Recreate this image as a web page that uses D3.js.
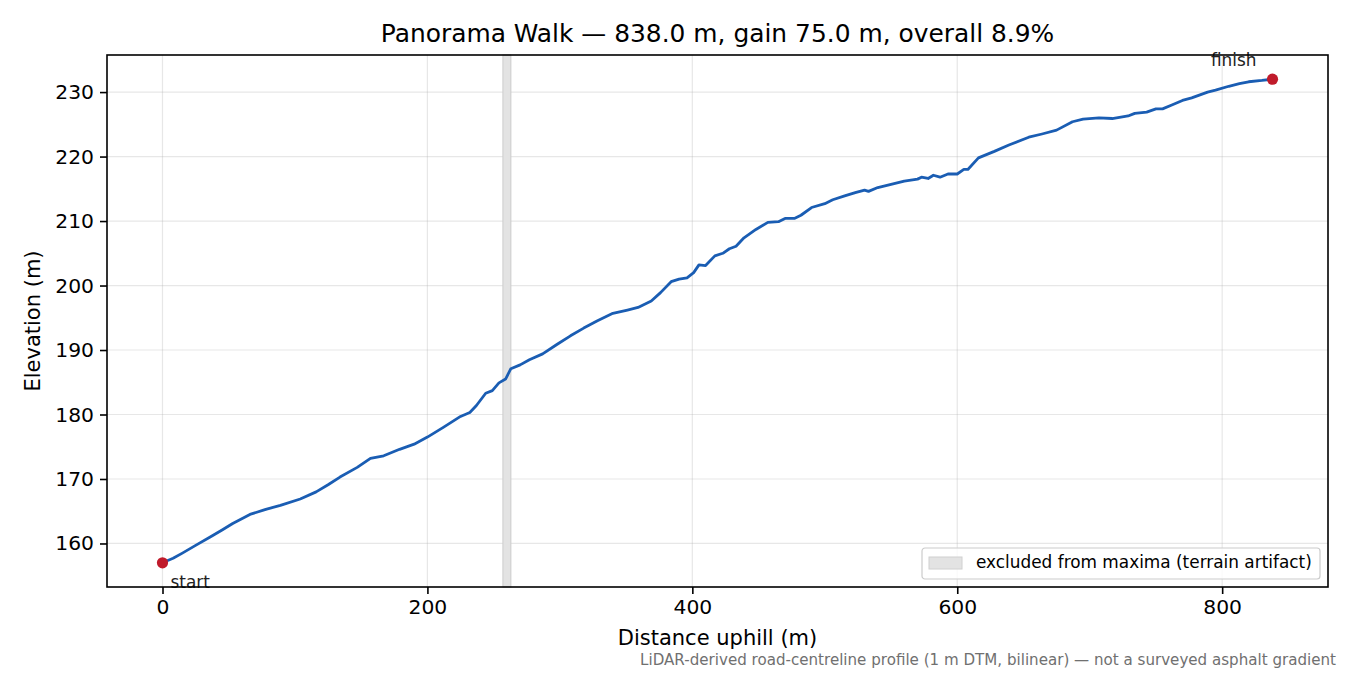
<!DOCTYPE html>
<html>
<head>
<meta charset="utf-8">
<script src="https://cdn.jsdelivr.net/npm/d3@7"></script>
<style>
  html, body { margin: 0; padding: 0; background: #fff; }
  svg { display: block; font-family: "DejaVu Sans", sans-serif; }
</style>
</head>
<body>
<svg id="chart" width="1350" height="675"></svg>
<script>
// profile (distance in m, elevation in m)
const distance = [0, 8, 15, 25, 36, 45, 53, 66, 78, 89, 104, 116, 125, 134, 147, 157, 167, 179, 190, 200,
  212, 225, 232, 237, 244, 249, 254, 259, 263, 270, 277, 287, 298, 308, 318, 328, 340, 351, 359, 369,
  376, 384, 390, 396, 401, 405, 410, 417, 423, 428, 433, 439, 448, 457, 465, 470, 477, 482, 490, 500,
  506, 515, 523, 530, 533, 540, 550, 560, 570, 573, 578, 582, 587, 593, 600, 605, 608, 616, 628, 639,
  654, 664, 675, 687, 695, 707, 717, 729, 734, 743, 750, 755, 762, 770, 777, 789, 795, 805, 813, 820,
  830, 838];
const elevation = [157.0, 157.7, 158.5, 159.7, 161.0, 162.1, 163.1, 164.5, 165.3, 165.9, 166.9, 168.0, 169.1, 170.3, 171.8, 173.2, 173.6, 174.6, 175.4, 176.5,
  178.0, 179.7, 180.3, 181.4, 183.3, 183.7, 184.9, 185.5, 187.1, 187.7, 188.5, 189.4, 190.9, 192.2, 193.4, 194.5, 195.7, 196.2, 196.6, 197.6,
  198.9, 200.6, 201.0, 201.2, 202.0, 203.2, 203.1, 204.6, 205.0, 205.7, 206.1, 207.4, 208.7, 209.8, 209.9, 210.4, 210.4, 210.9, 212.1, 212.7,
  213.3, 213.9, 214.4, 214.8, 214.6, 215.2, 215.7, 216.2, 216.5, 216.8, 216.6, 217.1, 216.8, 217.3, 217.3, 218.0, 218.0, 219.8, 220.8, 221.8,
  223.0, 223.5, 224.1, 225.4, 225.8, 226.0, 225.9, 226.3, 226.7, 226.9, 227.4, 227.4, 228.0, 228.7, 229.1, 230.0, 230.3, 230.9, 231.3, 231.6,
  231.8, 232.0];
const excludedRange = [257, 263];
const xTicks = [0, 200, 400, 600, 800];
const yTicks = [160, 170, 180, 190, 200, 210, 220, 230];
const titleText = "Panorama Walk \u2014 838.0 m, gain 75.0 m, overall 8.9%";
const legendText = "excluded from maxima (terrain artifact)";
const noteText = "LiDAR-derived road-centreline profile (1 m DTM, bilinear) \u2014 not a surveyed asphalt gradient";

const points = distance.map((d, i) => ({d, e: elevation[i]}));

const margin = {left: 107, right: 22, top: 55, bottom: 88};
const width = 1350, height = 675;

const svg = d3.select('#chart');

// matplotlib-style 5% padding around the data
const xPad = (d3.max(distance) - d3.min(distance)) * 0.05;
const yPad = (d3.max(elevation) - d3.min(elevation)) * 0.05;
const x = d3.scaleLinear()
  .domain([d3.min(distance) - xPad, d3.max(distance) + xPad])
  .range([margin.left, width - margin.right]);
const y = d3.scaleLinear()
  .domain([d3.min(elevation) - yPad, d3.max(elevation) + yPad])
  .range([height - margin.bottom, margin.top]);

const plotW = width - margin.left - margin.right;
const plotH = height - margin.top - margin.bottom;

// grid
svg.append('g').selectAll('line.gx')
  .data(xTicks).join('line')
  .attr('x1', d => x(d)).attr('x2', d => x(d))
  .attr('y1', margin.top).attr('y2', height - margin.bottom)
  .attr('stroke', '#b0b0b0').attr('stroke-opacity', 0.3).attr('stroke-width', 1.2);
svg.append('g').selectAll('line.gy')
  .data(yTicks).join('line')
  .attr('x1', margin.left).attr('x2', width - margin.right)
  .attr('y1', d => y(d)).attr('y2', d => y(d))
  .attr('stroke', '#b0b0b0').attr('stroke-opacity', 0.3).attr('stroke-width', 1.2);

// excluded span
svg.append('rect')
  .attr('x', x(excludedRange[0]))
  .attr('y', margin.top)
  .attr('width', x(excludedRange[1]) - x(excludedRange[0]))
  .attr('height', plotH)
  .attr('fill', '#e3e3e3')
  .attr('stroke', '#cccccc')
  .attr('stroke-width', 1);

// profile line
const line = d3.line().x(p => x(p.d)).y(p => y(p.e));
svg.append('path')
  .datum(points)
  .attr('d', line)
  .attr('fill', 'none')
  .attr('stroke', '#1a5db3')
  .attr('stroke-width', 2.8)
  .attr('stroke-linejoin', 'round');

// start / finish markers
const ends = [
  {p: points[0], label: 'start', dx: 8, dy: 25, anchor: 'start'},
  {p: points[points.length - 1], label: 'finish', dx: -16, dy: -13, anchor: 'end'}
];
svg.append('g').selectAll('circle')
  .data(ends).join('circle')
  .attr('cx', d => x(d.p.d)).attr('cy', d => y(d.p.e))
  .attr('r', 5.6)
  .attr('fill', '#c01b2b');
svg.append('g').selectAll('text')
  .data(ends).join('text')
  .attr('x', d => x(d.p.d) + d.dx)
  .attr('y', d => y(d.p.e) + d.dy)
  .attr('text-anchor', d => d.anchor)
  .attr('font-size', 16.9)
  .attr('fill', '#222')
  .text(d => d.label);

// axes
const xAxis = svg.append('g')
  .attr('transform', `translate(0,${height - margin.bottom})`)
  .call(d3.axisBottom(x).tickValues(xTicks).tickSize(7).tickPadding(6).tickFormat(d3.format('d')));
const yAxis = svg.append('g')
  .attr('transform', `translate(${margin.left},0)`)
  .call(d3.axisLeft(y).tickValues(yTicks).tickSize(7).tickPadding(6).tickFormat(d3.format('d')));
[xAxis, yAxis].forEach(a => {
  a.select('.domain').remove();
  a.selectAll('.tick line').attr('stroke', '#000').attr('stroke-width', 1.6);
  a.selectAll('.tick text').attr('font-size', 20.3).attr('fill', '#000')
    .attr('font-family', '"DejaVu Sans", sans-serif');
});

// frame
svg.append('rect')
  .attr('x', margin.left).attr('y', margin.top)
  .attr('width', plotW).attr('height', plotH)
  .attr('fill', 'none').attr('stroke', '#000').attr('stroke-width', 1.6);

// legend
const lg = svg.append('g').attr('transform', 'translate(922,548)');
lg.append('rect')
  .attr('width', 398).attr('height', 31).attr('rx', 3)
  .attr('fill', '#fff').attr('fill-opacity', 0.8)
  .attr('stroke', '#cccccc').attr('stroke-width', 1.2);
lg.append('rect')
  .attr('x', 7).attr('y', 9).attr('width', 33).attr('height', 12)
  .attr('fill', '#e3e3e3').attr('stroke', '#d0d0d0').attr('stroke-width', 1);
lg.append('text')
  .attr('x', 54).attr('y', 20)
  .attr('font-size', 16.9).attr('fill', '#000')
  .text(legendText);

// titles and labels
svg.append('text')
  .attr('x', margin.left + plotW / 2).attr('y', 42)
  .attr('text-anchor', 'middle').attr('font-size', 24.9).attr('fill', '#000')
  .text(titleText);
svg.append('text')
  .attr('x', margin.left + plotW / 2).attr('y', 645)
  .attr('text-anchor', 'middle').attr('font-size', 21).attr('fill', '#000')
  .text('Distance uphill (m)');
svg.append('text')
  .attr('transform', `translate(40,${margin.top + plotH / 2}) rotate(-90)`)
  .attr('text-anchor', 'middle').attr('font-size', 21).attr('fill', '#000')
  .text('Elevation (m)');
svg.append('text')
  .attr('x', 1336).attr('y', 665)
  .attr('text-anchor', 'end').attr('font-size', 15.1).attr('fill', '#707070')
  .text(noteText);
</script>
</body>
</html>
